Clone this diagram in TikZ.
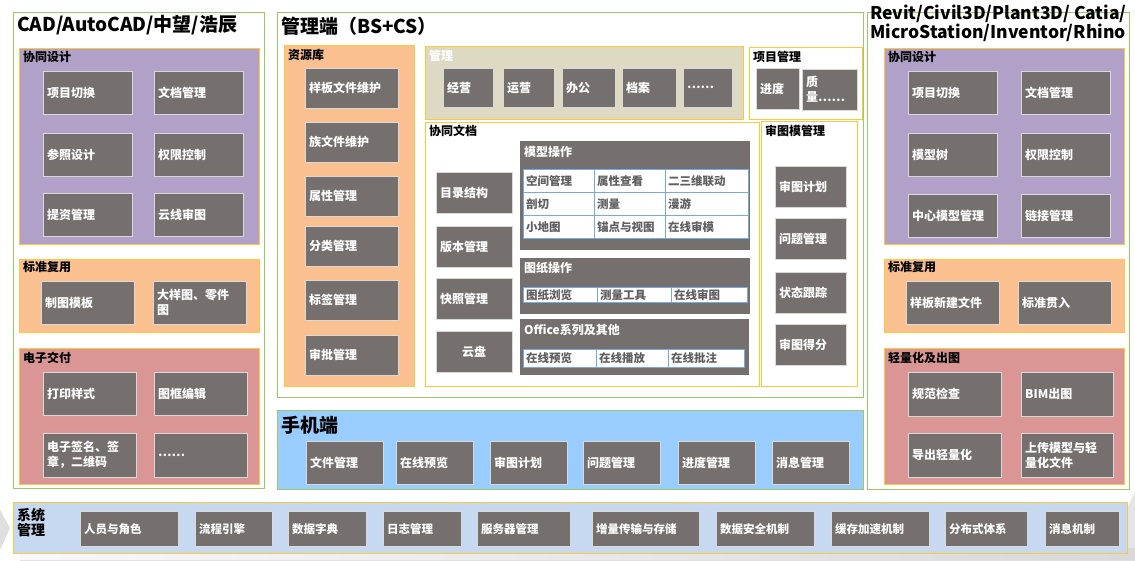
\documentclass[tikz,border=0pt]{standalone}
\usepackage{fontspec}
\setmainfont{Noto Sans CJK SC}
\definecolor{panelgreen}{RGB}{155,200,105}
\definecolor{grpyellow}{RGB}{255,200,60}
\definecolor{itemgray}{RGB}{117,112,110}
\definecolor{lilac}{RGB}{177,160,199}
\definecolor{peach}{RGB}{250,192,144}
\definecolor{rose}{RGB}{217,150,148}
\definecolor{sand}{RGB}{221,217,195}
\definecolor{skyblue}{RGB}{153,204,255}
\definecolor{paleblue}{RGB}{198,217,241}
\definecolor{cellblue}{RGB}{120,170,225}
\definecolor{celltext}{RGB}{95,95,95}
\begin{document}
\begin{tikzpicture}[x=1pt, y=-1pt,
  panel/.style={draw=panelgreen, line width=1pt},
  grp/.style={draw=grpyellow, line width=0.8pt},
  item/.style={draw=black!15, fill=itemgray, text=white, anchor=north west, inner xsep=4pt, inner ysep=0pt, align=left, font=\bfseries\fontsize{12}{15}\selectfont},
  cell/.style={draw=cellblue, fill=white, text=celltext, anchor=north west, inner xsep=3pt, inner ysep=0pt, align=left, font=\bfseries\fontsize{11.5}{13}\selectfont},
  lbl/.style={anchor=west, inner sep=0pt, font=\bfseries\fontsize{12}{14}\selectfont},
  ttl/.style={anchor=west, inner sep=0pt, align=left, font=\bfseries\fontsize{19}{21}\selectfont}]
\useasboundingbox (0,0) rectangle (1135,560);

% grey swoosh behind the system bar
\fill[gray!25] (0,510) -- (10,528) -- (0,550) -- cycle;
\fill[left color=gray!5, right color=gray!30] (20,553) -- (1135,548) -- (1135,560) -- (20,560) -- cycle;
\fill[gray!20] (1127,508) -- (1135,492) -- (1135,548) -- (1127,548) -- cycle;

% ---- CAD side
\draw[panel] (13,12) rectangle (264,488);
\node[ttl] (cadtitle) at (17,25) {CAD/AutoCAD/中望/浩辰};

\draw[grp, fill=lilac] (19,48) rectangle (259,244);
\node[lbl] (cadxt) at (23,57) {协同设计};
\foreach \x/\y/\t [count=\i] in {43/71/项目切换, 154/71/文档管理, 43/133/参照设计, 154/133/权限控制, 43/193/提资管理, 154/193/云线审图}
  \node[item, text width=81pt, minimum height=43pt] (cadxt\i) at (\x,\y) {\t};

\draw[grp, fill=peach] (19,259) rectangle (259,332);
\node[lbl] (cadbz) at (23,267) {标准复用};
\node[item, text width=85pt, minimum height=43pt] (cadbz1) at (41,281) {制图模板};
\node[item, text width=85pt, minimum height=43pt] (cadbz2) at (153,281) {大样图、零件\\图};

\draw[grp, fill=rose] (19,348) rectangle (259,484);
\node[lbl] (caddz) at (23,358) {电子交付};
\node[item, text width=85pt, minimum height=43pt] (caddz1) at (43,372) {打印样式};
\node[item, text width=85pt, minimum height=43pt] (caddz2) at (154,372) {图框编辑};
\node[item, text width=85pt, minimum height=44pt] (caddz3) at (43,433) {电子签名、签\\章，二维码};
\node[item, text width=85pt, minimum height=44pt] (caddz4) at (154,433) {……};

% ---- management side
\draw[panel] (277,12) rectangle (863,397);
\node[ttl] (mgrtitle) at (281,26) {管理端（BS+CS）};

\draw[grp, fill=peach] (284,45) rectangle (414,386);
\node[lbl] (zyk) at (288,55) {资源库};
\foreach \y/\t [count=\i] in {68/样板文件维护, 122/族文件维护, 176/属性管理, 226/分类管理, 280/标签管理, 335/审批管理}
  \node[item, text width=85pt, minimum height=40pt] (zyk\i) at (305,\y) {\t};

\draw[grp, fill=sand] (425,46) rectangle (743,119);
\node[lbl, text=white] (gl) at (429,56) {管理};
\foreach \x/\w/\t [count=\i] in {443/42/经营, 503/43/运营, 562/45/办公, 622/46/档案, 683/41/……}
  \node[item, text width=\w pt, minimum height=39pt] (gl\i) at (\x,68) {\t};

\draw[grp] (749,47) rectangle (862,119);
\node[lbl] (xmgl) at (753,57) {项目管理};
\node[item, text width=35pt, minimum height=41pt] (xmgl1) at (756,68) {进度};
\node[item, text width=47pt, minimum height=41pt] (xmgl2) at (802,69) {质\\量……};

\draw[grp] (425,122) rectangle (759,386);
\node[lbl] (xtwd) at (429,131) {协同文档};
\foreach \y/\t [count=\i] in {172/目录结构, 226/版本管理, 278/快照管理}
  \node[item, text width=68pt, minimum height=41pt] (xtwd\i) at (436,\y) {\t};
\node[item, text width=68pt, minimum height=41pt, align=center] (xtwd4) at (436,331) {云盘};

\fill[itemgray] (520,141) rectangle (750,250);
\node[lbl, text=white] (mxcz) at (524,152) {模型操作};
\foreach \x/\y/\w/\t [count=\i] in {523/169/65/空间管理, 594/169/65/属性查看, 665/169/77/二三维联动,
    523/192/65/剖切, 594/192/65/测量, 665/192/77/漫游,
    523/215/65/小地图, 594/215/65/锚点与视图, 665/215/77/在线审模}
  \node[cell, text width=\w pt, minimum height=23pt] (mxcz\i) at (\x,\y) {\t};

\fill[itemgray] (520,258) rectangle (750,314);
\node[lbl, text=white] (tzcz) at (524,268) {图纸操作};
\foreach \x/\w/\t [count=\i] in {523/68/图纸浏览, 597/68/测量工具, 671/70/在线审图}
  \node[cell, text width=\w pt, minimum height=15pt] (tzcz\i) at (\x,287) {\t};

\fill[itemgray] (520,319) rectangle (749,375);
\node[lbl, text=white] (office) at (524,330) {Office系列及其他};
\foreach \x/\w/\t [count=\i] in {523/67/在线预览, 596/66/在线播放, 668/70/在线批注}
  \node[cell, text width=\w pt, minimum height=18pt] (office\i) at (\x,349) {\t};

\draw[grp] (761,121) rectangle (857,386);
\node[lbl] (stm) at (765,131) {审图模管理};
\foreach \y/\t [count=\i] in {166/审图计划, 218/问题管理, 272/状态跟踪, 324/审图得分}
  \node[item, text width=63pt, minimum height=41pt] (stm\i) at (775,\y) {\t};

% ---- mobile
\draw[panel, fill=skyblue] (277,410) rectangle (863,489);
\node[ttl] (mobtitle) at (281,425) {手机端};
\foreach \x/\t [count=\i] in {306/文件管理, 396/在线预览, 490/审图计划, 583/问题管理, 678/进度管理, 772/消息管理}
  \node[item, text width=69pt, minimum height=43pt] (mob\i) at (\x,441) {\t};

% ---- BIM side
\draw[panel] (867,12) rectangle (1129,489);
\node[ttl, font=\bfseries\fontsize{17.5}{19}\selectfont] (bimtitle) at (870,23) {Revit/Civil3D/Plant3D/ Catia/\\MicroStation/Inventor/Rhino};

\draw[grp, fill=lilac] (884,48) rectangle (1124,244);
\node[lbl] (bimxt) at (888,57) {协同设计};
\foreach \x/\y/\t [count=\i] in {908/71/项目切换, 1021/71/文档管理, 908/133/模型树, 1021/133/权限控制, 908/194/中心模型管理, 1021/194/链接管理}
  \node[item, text width=81pt, minimum height=43pt] (bimxt\i) at (\x,\y) {\t};

\draw[grp, fill=peach] (884,259) rectangle (1124,332);
\node[lbl] (bimbz) at (888,267) {标准复用};
\node[item, text width=85pt, minimum height=43pt] (bimbz1) at (906,281) {样板新建文件};
\node[item, text width=85pt, minimum height=43pt] (bimbz2) at (1018,281) {标准贯入};

\draw[grp, fill=rose] (884,348) rectangle (1124,484);
\node[lbl] (bimqt) at (888,358) {轻量化及出图};
\node[item, text width=85pt, minimum height=44pt] (bimqt1) at (908,372) {规范检查};
\node[item, text width=84pt, minimum height=44pt] (bimqt2) at (1021,372) {BIM出图};
\node[item, text width=85pt, minimum height=44pt] (bimqt3) at (908,433) {导出轻量化};
\node[item, text width=84pt, minimum height=44pt] (bimqt4) at (1021,433) {上传模型与轻\\量化文件};

% ---- system bar
\draw[grp, fill=paleblue] (13,502) rectangle (1127,553);
\node[lbl, align=left, font=\bfseries\fontsize{14}{15}\selectfont] (sys) at (17,523) {系统\\管理};
\foreach \x/\w/\t [count=\i] in {80/90/人员与角色, 195/69/流程引擎, 288/70/数据字典, 383/70/日志管理, 477/85/服务器管理,
    592/99/增量传输与存储, 716/90/数据安全机制, 831/90/缓存加速机制, 945/74/分布式体系, 1045/66/消息机制}
  \node[item, text width=\w pt, minimum height=35pt, font=\bfseries\fontsize{11.5}{13}\selectfont] (sys\i) at (\x,511) {\t};
\end{tikzpicture}
\end{document}
